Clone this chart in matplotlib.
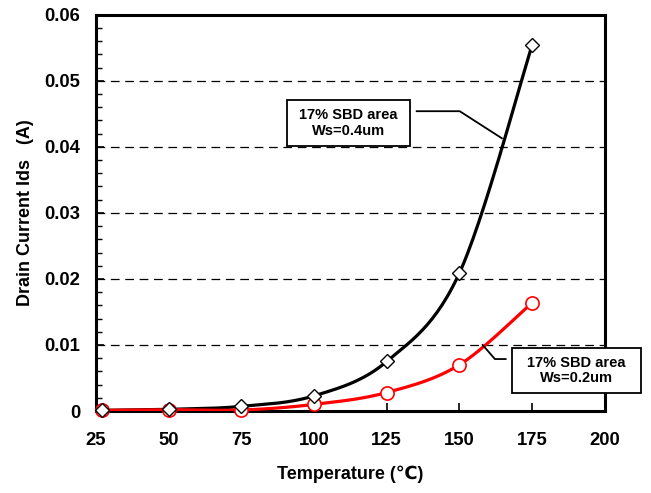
import numpy as np
import matplotlib
matplotlib.use("Agg")
import matplotlib.pyplot as plt
from matplotlib.patches import Rectangle
from matplotlib.ticker import MultipleLocator

plt.rcParams['font.family'] = ['Liberation Sans', 'DejaVu Sans']
plt.rcParams['font.weight'] = 'bold'

# Measured drain current vs temperature
temperature = [27, 50, 75, 100, 125, 150, 175]
ids_ws04 = [0.0001, 0.00025, 0.0007, 0.0023, 0.0075, 0.0209, 0.0554]
ids_ws02 = [0.0001, 0.0002, 0.00015, 0.0010, 0.0028, 0.0070, 0.0164]

label_ws04 = "17% SBD area\nWs=0.4um"
label_ws02 = "17% SBD area\nWs=0.2um"

x_ticks = [25, 50, 75, 100, 125, 150, 175, 200]
y_ticks = [0, 0.01, 0.02, 0.03, 0.04, 0.05, 0.06]


def smooth(ax, xs, ys, n=30):
    """Catmull-Rom curve through the points, built in display space."""
    pts = ax.transData.transform(np.column_stack([xs, ys]))
    p = np.vstack([pts[0], pts, pts[-1]])
    out = []
    for i in range(1, len(p) - 2):
        p0, p1, p2, p3 = p[i - 1], p[i], p[i + 1], p[i + 2]
        t = np.linspace(0, 1, n)[:, None]
        c1 = p1 + (p2 - p0) / 6
        c2 = p2 - (p3 - p1) / 6
        seg = ((1 - t) ** 3) * p1 + 3 * ((1 - t) ** 2) * t * c1 + 3 * (1 - t) * t ** 2 * c2 + t ** 3 * p2
        out.append(seg if i == 1 else seg[1:])
    out = np.vstack(out)
    d = ax.transData.inverted().transform(out)
    return d[:, 0], d[:, 1]


fig = plt.figure(figsize=(6.51, 4.93), dpi=100)
ax = fig.add_axes([0.1475, 0.1663, 0.929 - 0.1475, 0.970 - 0.1663])
ax.set_xlim(25, 200)
ax.set_ylim(0, 0.06)

for y in y_ticks[1:-1]:
    ax.axhline(y, color='black', lw=0.9, dashes=(7, 4.5), zorder=1)

sx, sy = smooth(ax, temperature, ids_ws04)
ax.plot(sx, sy, color='black', lw=2.3, zorder=3, solid_capstyle='round')
sx, sy = smooth(ax, temperature, ids_ws02)
ax.plot(sx, sy, color='#ff0000', lw=2.3, zorder=3, solid_capstyle='round')

ax.plot(temperature, ids_ws02, ls='none', marker='o', ms=9.5, mfc='white',
        mec='#ff0000', mew=1.2, zorder=4, clip_on=False)
ax.plot(temperature, ids_ws04, ls='none', marker='D', ms=7.5, mfc='white',
        mec='black', mew=1.0, zorder=5, clip_on=False)

ax.set_xticks(x_ticks)
ax.set_yticks(y_ticks)
ax.set_yticklabels(['0'] + [f"{v:.2f}" for v in y_ticks[1:]])
ax.yaxis.set_minor_locator(MultipleLocator(0.002))
ax.tick_params(axis='both', which='major', direction='in', length=6, width=1.2,
               labelsize=13.3)
ax.tick_params(axis='y', which='minor', direction='in', length=4, width=1.0)
ax.tick_params(axis='y', which='major', pad=11.5)
ax.tick_params(axis='x', which='major', pad=15)
for s in ax.spines.values():
    s.set_linewidth(2.2)

ax.set_xlabel("Temperature (\u2103)", fontsize=13, fontweight='bold', labelpad=12)
ax.set_ylabel("Drain Current Ids   (A)", fontsize=13, fontweight='bold', labelpad=7.5)

# Callout boxes and leader lines
def callout(x0, x1, y0, y1, text, leader_x, leader_y):
    ax.add_patch(Rectangle((x0, y0), x1 - x0, y1 - y0, transform=ax.transData,
                           facecolor='white', edgecolor='black', lw=1.3,
                           zorder=6, clip_on=False))
    ax.text((x0 + x1) / 2, (y0 + y1) / 2, text, ha='center', va='center',
            fontsize=10.5, fontweight='bold', linespacing=1.15, zorder=7)
    ax.plot(leader_x, leader_y, color='black', lw=1.3, zorder=6, clip_on=False)

callout(90.7, 132.9, 0.0401, 0.0471, label_ws04,
        [135.3, 150.1, 164.6], [0.0454, 0.0454, 0.0413])
callout(168.0, 212.3, 0.00273, 0.00954, label_ws02,
        [165.9, 162.2, 158.0], [0.00787, 0.00787, 0.0100])

fig.savefig("out.png", dpi=100)
